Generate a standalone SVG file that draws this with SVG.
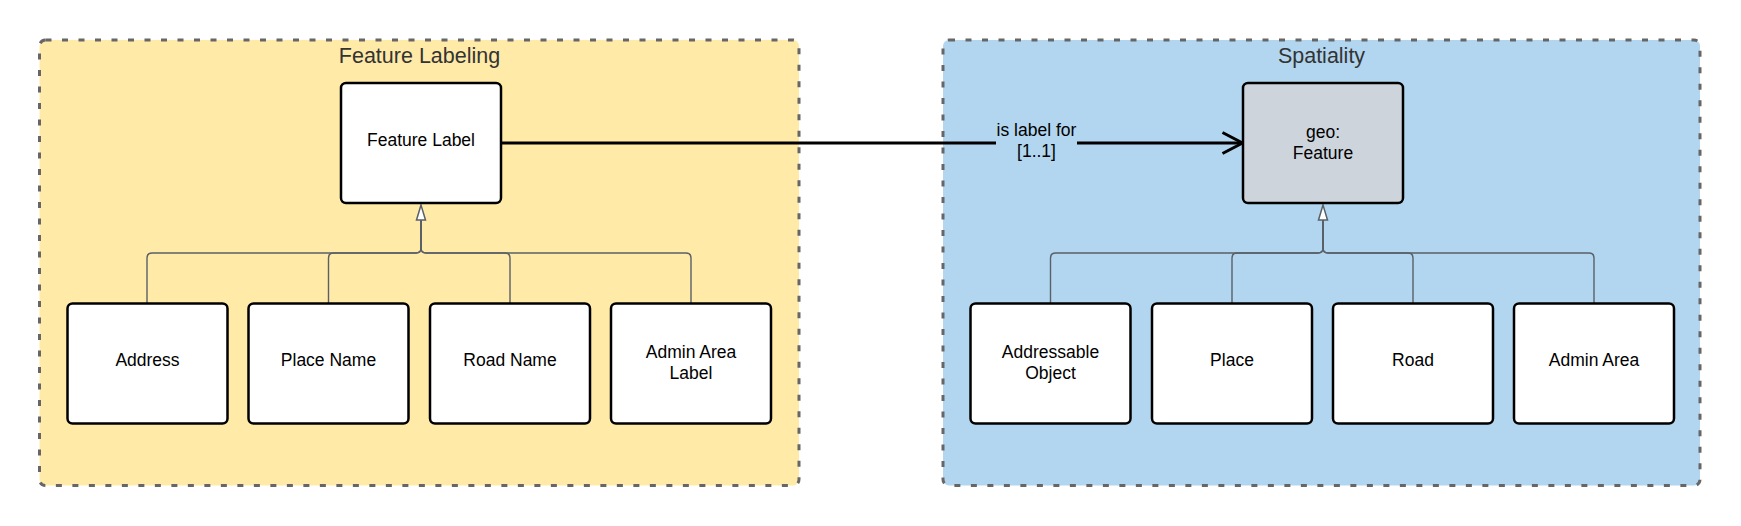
<svg xmlns="http://www.w3.org/2000/svg" width="1741" height="526" viewBox="0 0 1741 526">
<style>
.container{stroke:#666666;stroke-width:3;stroke-dasharray:6 10.5;}
.box{fill:#ffffff;stroke:#000000;stroke-width:2.5;}
.title{font-family:"Liberation Sans",Arial,sans-serif;font-size:21.5px;fill:#333333;text-anchor:middle;}
.lbl{font-family:"Liberation Sans",Arial,sans-serif;font-size:17.5px;fill:#000000;text-anchor:middle;}
.gen{fill:none;stroke:#5a6068;stroke-width:1.4;}
.head{fill:#ffffff;stroke:#5a6068;stroke-width:1.5;stroke-linejoin:miter;}
</style>
<rect width="1741" height="526" fill="#ffffff"/>
<g id="feature-labeling">
<rect class="container" x="39.5" y="40" width="759.5" height="445.5" rx="6" fill="#ffeaa7"/>
<text class="title" x="419.5" y="63.3">Feature Labeling</text>
</g>
<g id="spatiality">
<rect class="container" x="943" y="40" width="757" height="445.5" rx="6" fill="#b2d6ef"/>
<text class="title" x="1321.5" y="63">Spatiality</text>
</g>
<g id="connectors">
<path class="gen" d="M421 219 V248 Q421 253 416 253 H152 Q147 253 147 258 V303.5"/>
<path class="gen" d="M421 219 V248 Q421 253 416 253 H333.5 Q328.5 253 328.5 258 V303.5"/>
<path class="gen" d="M421 219 V248 Q421 253 426 253 H505 Q510 253 510 258 V303.5"/>
<path class="gen" d="M421 219 V248 Q421 253 426 253 H686 Q691 253 691 258 V303.5"/>
<polygon class="head" points="421,205 416.5,220 425.5,220"/>
<path class="gen" d="M1323 219 V248 Q1323 253 1318 253 H1055.5 Q1050.5 253 1050.5 258 V303.5"/>
<path class="gen" d="M1323 219 V248 Q1323 253 1318 253 H1237 Q1232 253 1232 258 V303.5"/>
<path class="gen" d="M1323 219 V248 Q1323 253 1328 253 H1408 Q1413 253 1413 258 V303.5"/>
<path class="gen" d="M1323 219 V248 Q1323 253 1328 253 H1589 Q1594 253 1594 258 V303.5"/>
<polygon class="head" points="1323,205 1318.5,220 1327.5,220"/>
<path d="M501 143 H996 M1077 143 H1242" fill="none" stroke="#000000" stroke-width="3"/>
<path d="M1222.5 132.5 L1242.5 143 L1222.5 153.5" fill="none" stroke="#000000" stroke-width="3" stroke-linejoin="miter"/>
<text class="lbl" x="1036.5" y="136">is label for</text>
<text class="lbl" x="1036.5" y="157">[1..1]</text>
</g>
<g id="feature-label">
<rect class="box" x="341" y="83" width="160" height="120" rx="5"/>
<text class="lbl" x="421" y="146">Feature Label</text>
</g>
<g id="address">
<rect class="box" x="67.5" y="303.5" width="160" height="120" rx="5"/>
<text class="lbl" x="147.5" y="366">Address</text>
</g>
<g id="place-name">
<rect class="box" x="248.5" y="303.5" width="160" height="120" rx="5"/>
<text class="lbl" x="328.5" y="366">Place Name</text>
</g>
<g id="road-name">
<rect class="box" x="430" y="303.5" width="160" height="120" rx="5"/>
<text class="lbl" x="510" y="366">Road Name</text>
</g>
<g id="admin-area-label">
<rect class="box" x="611" y="303.5" width="160" height="120" rx="5"/>
<text class="lbl" x="691" y="357.5">Admin Area</text>
<text class="lbl" x="691" y="378.5">Label</text>
</g>
<g id="geo-feature">
<rect class="box" x="1243" y="83" width="160" height="120" rx="5" fill="#cdd4dc" style="fill:#cdd4dc"/>
<text class="lbl" x="1323" y="137.5">geo:</text>
<text class="lbl" x="1323" y="158.5">Feature</text>
</g>
<g id="addressable-object">
<rect class="box" x="970.5" y="303.5" width="160" height="120" rx="5"/>
<text class="lbl" x="1050.5" y="357.5">Addressable</text>
<text class="lbl" x="1050.5" y="378.5">Object</text>
</g>
<g id="place">
<rect class="box" x="1152" y="303.5" width="160" height="120" rx="5"/>
<text class="lbl" x="1232" y="366">Place</text>
</g>
<g id="road">
<rect class="box" x="1333" y="303.5" width="160" height="120" rx="5"/>
<text class="lbl" x="1413" y="366">Road</text>
</g>
<g id="admin-area">
<rect class="box" x="1514" y="303.5" width="160" height="120" rx="5"/>
<text class="lbl" x="1594" y="366">Admin Area</text>
</g>
</svg>
